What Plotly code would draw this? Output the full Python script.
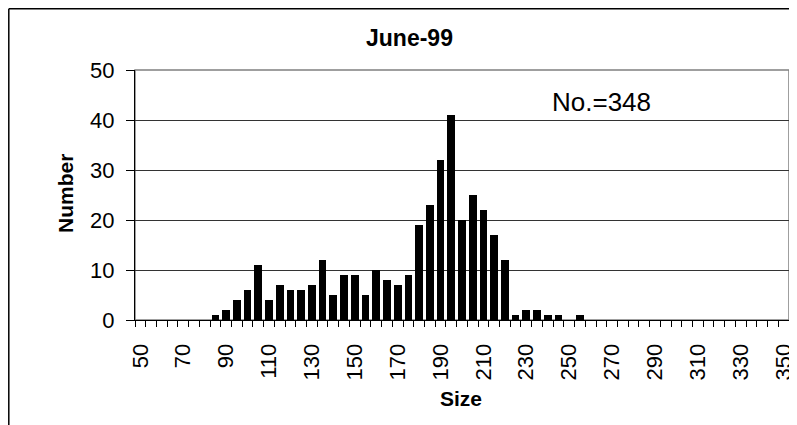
import plotly.graph_objects as go

# size classes (mm) and fish counts, June-99
sizes = [50, 55, 60, 65, 70, 75, 80, 85, 90, 95,
         100, 105, 110, 115, 120, 125, 130, 135, 140, 145,
         150, 155, 160, 165, 170, 175, 180, 185, 190, 195,
         200, 205, 210, 215, 220, 225, 230, 235, 240, 245,
         250, 255, 260, 265, 270, 275, 280, 285, 290, 295,
         300, 305, 310, 315, 320, 325, 330, 335, 340, 345, 350]
counts = [0, 0, 0, 0, 0, 0, 0, 1, 2, 4,
          6, 11, 4, 7, 6, 6, 7, 12, 5, 9,
          9, 5, 10, 8, 7, 9, 19, 23, 32, 41,
          20, 25, 22, 17, 12, 1, 2, 2, 1, 1,
          0, 1, 0, 0, 0, 0, 0, 0, 0, 0,
          0, 0, 0, 0, 0, 0, 0, 0, 0, 0, 0]
label_sizes = [50, 70, 90, 110, 130, 150, 170, 190, 210, 230, 250, 270, 290, 310, 330, 350]
total_label = "No.=348"

font = "Liberation Sans"
OFF = 8  # page body margin
W, H = 797 - OFF, 425 - OFF
L, R, T, B = 135 - OFF, 8, 70 - OFF, 105
pw, ph = W - L - R, H - T - B


# page pixel -> paper coordinate
def px(x):
    return (x - OFF - L) / pw


def py(y):
    return (H - B - (y - OFF)) / ph


fig = go.Figure()
fig.add_trace(go.Bar(x=sizes, y=counts, width=3.6,
                     marker=dict(color="black", line=dict(width=0))))

# boundaries between size classes carry the tick marks
edges = [s - 2.5 for s in sizes] + [sizes[-1] + 2.5]

fig.update_layout(
    width=W, height=H,
    margin=dict(l=L, r=R, t=T, b=B, autoexpand=False),
    paper_bgcolor="white", plot_bgcolor="white",
    showlegend=False,
    font=dict(family=font, size=22, color="black"),
    bargap=0,
    xaxis=dict(range=[sizes[0] - 2.5, sizes[-1] + 2.5], automargin=False,
               tickmode="array", tickvals=label_sizes,
               ticktext=[str(v) for v in label_sizes],
               tickangle=-90, ticks="", showgrid=False, zeroline=False,
               showline=True, linecolor="black", linewidth=1,
               ticklabelstandoff=14,
               tickfont=dict(family=font, size=22),
               minor=dict(tickmode="array", tickvals=edges, ticks="outside",
                          ticklen=6, tickcolor="black", tickwidth=1, showgrid=False)),
    yaxis=dict(range=[0, 50], dtick=10, ticks="outside", ticklen=8, automargin=False,
               tickcolor="black", showline=True, linecolor="black", linewidth=1,
               showgrid=True, gridcolor="#333333", gridwidth=1, zeroline=False,
               ticklabelstandoff=7,
               tickfont=dict(family=font, size=22)),
    shapes=[
        # plot area border
        dict(type="rect", xref="paper", yref="paper", x0=0, x1=1, y0=0, y1=1,
             line=dict(color="#808080", width=1.5), layer="below"),
        # chart area border (cropped at right/bottom)
        dict(type="line", xref="paper", yref="paper",
             x0=px(8.8), x1=px(8.8), y0=py(8.8), y1=py(450),
             line=dict(color="black", width=1.5)),
        dict(type="line", xref="paper", yref="paper",
             x0=px(8.8), x1=px(820), y0=py(8.8), y1=py(8.8),
             line=dict(color="black", width=1.5)),
    ],
    annotations=[
        dict(text="<b>June-99</b>", xref="paper", yref="paper", x=px(409), y=py(38),
             showarrow=False, font=dict(family=font, size=23),
             xanchor="center", yanchor="middle"),
        dict(text="<b>Size</b>", xref="paper", yref="paper", x=px(461), y=py(398),
             showarrow=False, font=dict(family=font, size=21),
             xanchor="center", yanchor="middle"),
        dict(text="<b>Number</b>", xref="paper", yref="paper", x=px(65.5), y=py(193.5),
             showarrow=False, font=dict(family=font, size=21), textangle=-90,
             xanchor="center", yanchor="middle"),
        dict(text=total_label, xref="paper", yref="paper", x=px(601), y=py(101.5),
             showarrow=False, font=dict(family=font, size=26),
             xanchor="center", yanchor="middle"),
    ],
)

fig.write_html("out.html")
